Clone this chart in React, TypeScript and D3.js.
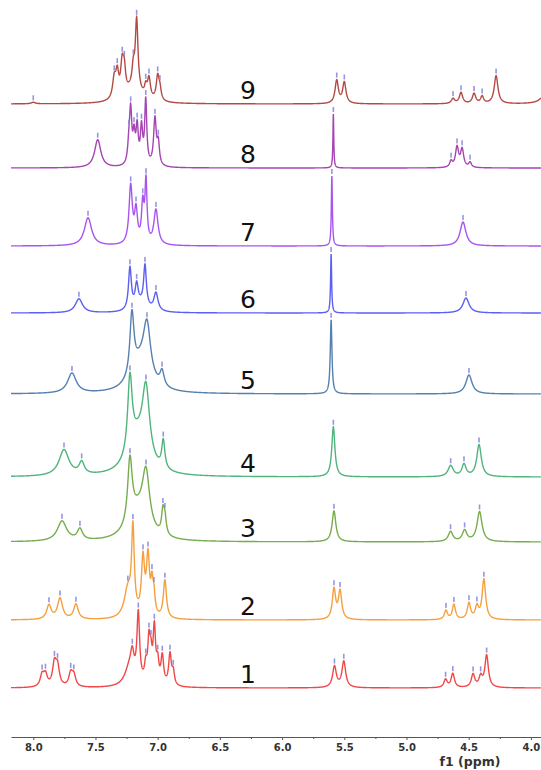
import React, { useEffect, useRef } from "react";
import * as d3 from "d3";

// peaks: [ppm, height, half width (ppm), picked?]
type Peak = [number, number, number, number];

const spectrumLabels = ["1", "2", "3", "4", "5", "6", "7", "8", "9"];
const majorTicks = [8.0, 7.5, 7.0, 6.5, 6.0, 5.5, 5.0, 4.5, 4.0];
const minorTicks = [7.75, 7.25, 6.75, 6.25, 5.75, 5.25, 4.75, 4.25];

const peaks1: Peak[] = [
  [7.929, 11.5, 0.018, 1], [7.902, 11.5, 0.018, 1], [7.83, 22, 0.018, 1], [7.805, 19, 0.018, 1],
  [7.699, 13, 0.018, 1], [7.674, 11, 0.018, 1],
  [7.225, 20, 0.045, 0], [7.204, 20, 0.016, 1], [7.156, 68, 0.013, 1], [7.096, 16, 0.012, 1],
  [7.07, 40, 0.012, 1], [7.054, 22, 0.011, 1], [7.027, 54, 0.012, 1], [7.0, 20, 0.012, 1],
  [6.963, 28, 0.013, 1], [6.901, 31, 0.013, 1], [6.875, 13, 0.012, 1],
  [5.579, 21, 0.018, 1], [5.504, 26, 0.018, 1],
  [4.686, 8, 0.016, 1], [4.628, 14, 0.016, 1], [4.465, 13, 0.017, 1], [4.404, 10, 0.016, 1], [4.356, 32, 0.017, 1],
];
const peaks2: Peak[] = [
  [7.874, 14, 0.022, 1], [7.785, 21, 0.024, 1], [7.657, 15, 0.022, 1],
  [7.24, 28, 0.035, 1], [7.199, 84, 0.013, 1], [7.118, 56, 0.015, 1], [7.078, 58, 0.015, 1],
  [7.046, 28, 0.011, 1], [7.03, 18, 0.011, 1], [6.942, 38, 0.015, 1],
  [5.583, 30, 0.016, 1], [5.534, 28, 0.016, 1],
  [4.683, 9, 0.015, 1], [4.619, 15, 0.015, 1], [4.498, 16, 0.016, 1], [4.434, 12, 0.016, 1], [4.378, 40, 0.017, 1],
];
const peaks3: Peak[] = [
  [7.769, 20, 0.045, 1], [7.625, 11, 0.025, 1],
  [7.16, 28, 0.09, 0], [7.223, 64, 0.022, 1], [7.094, 55, 0.035, 1], [6.958, 22, 0.013, 1], [6.942, 16, 0.013, 1],
  [5.583, 31, 0.018, 1],
  [4.646, 10, 0.022, 1], [4.533, 11, 0.022, 1], [4.413, 30, 0.024, 1],
];
const peaks4: Peak[] = [
  [7.753, 26, 0.048, 1], [7.611, 12, 0.025, 1],
  [7.16, 35, 0.09, 0], [7.223, 76, 0.022, 1], [7.094, 70, 0.035, 1], [6.955, 28, 0.015, 1],
  [5.588, 50, 0.015, 1],
  [4.645, 11, 0.025, 1], [4.538, 12, 0.02, 1], [4.417, 32, 0.022, 1],
];
const peaks5: Peak[] = [
  [7.689, 20, 0.042, 1],
  [7.14, 28, 0.09, 0], [7.207, 62, 0.02, 1], [7.086, 52, 0.035, 1], [6.965, 15, 0.02, 1],
  [5.606, 74, 0.008, 1],
  [4.498, 19, 0.03, 1],
];
const peaks6: Peak[] = [
  [7.633, 14, 0.035, 1],
  [7.13, 8, 0.06, 0], [7.223, 42, 0.014, 1], [7.169, 22, 0.015, 1], [7.102, 40, 0.013, 1], [7.014, 18, 0.02, 1],
  [5.606, 59, 0.005, 1],
  [4.522, 15, 0.03, 1],
];
const peaks7: Peak[] = [
  [7.56, 28, 0.035, 1],
  [7.217, 58, 0.016, 1], [7.174, 32, 0.014, 1], [7.12, 38, 0.012, 1], [7.094, 60, 0.01, 1], [7.014, 35, 0.02, 1],
  [5.6, 70, 0.005, 1],
  [4.546, 24, 0.028, 1],
];
const peaks8: Peak[] = [
  [7.482, 28, 0.03, 1],
  [7.231, 18, 0.012, 1], [7.217, 50, 0.011, 1], [7.19, 27, 0.011, 1], [7.165, 36, 0.011, 1],
  [7.13, 36, 0.011, 1], [7.096, 64, 0.01, 1], [7.022, 47, 0.013, 1], [6.995, 21, 0.011, 1],
  [5.588, 54, 0.004, 1],
  [4.642, 6, 0.013, 1], [4.594, 20, 0.015, 1], [4.553, 18, 0.015, 1], [4.489, 5, 0.013, 1],
];
const peaks9: Peak[] = [
  [8.0, 1.5, 0.02, 1],
  [7.2, 14, 0.08, 0], [7.349, 20, 0.016, 1], [7.325, 23, 0.014, 1], [7.285, 32, 0.015, 1], [7.268, 20, 0.012, 1],
  [7.196, 18, 0.012, 1], [7.169, 70, 0.013, 1], [7.096, 10, 0.012, 1], [7.07, 20, 0.014, 1],
  [7.0, 24, 0.014, 1], [6.982, 10, 0.012, 1],
  [5.561, 23, 0.016, 1], [5.5, 21, 0.016, 1],
  [4.626, 5, 0.016, 1], [4.562, 11, 0.016, 1], [4.457, 10, 0.016, 1], [4.392, 7, 0.014, 1], [4.28, 28, 0.018, 1],
  [3.86, 30, 0.03, 0],
];

const allPeaks = [peaks1, peaks2, peaks3, peaks4, peaks5, peaks6, peaks7, peaks8, peaks9];
const colors = ["#f04848", "#f5a040", "#77ad4e", "#50b47c", "#5580b0", "#5b5ff2", "#a855f0", "#a644b4", "#b34a45"];
const baselines = [688, 620, 542, 477, 394, 313, 246, 168, 104];

const W = 541;
const H = 770;
const axisY = 737;

const x = d3.scaleLinear().domain([8.179, 3.919]).range([11, 541]);

function intensity(p: Peak[], ppm: number) {
  let s = 0;
  for (const [c, h, w] of p) s += (h * w * w) / ((ppm - c) * (ppm - c) + w * w);
  return s;
}

const grid = d3.range(8.179, 3.919, -0.0008);

export default function App() {
  const axisRef = useRef<SVGGElement>(null);

  useEffect(() => {
    const g = d3.select(axisRef.current);
    g.selectAll("*").remove();
    const minor = g.append("g").call(
      d3.axisBottom(x).tickValues(minorTicks).tickSize(2).tickSizeOuter(0).tickFormat(() => "")
    );
    minor.select(".domain").remove();
    const major = g.append("g").call(
      d3.axisBottom(x).tickValues(majorTicks).tickSize(3).tickSizeOuter(0).tickPadding(4).tickFormat(d3.format(".1f"))
    );
    g.selectAll("line").attr("stroke", "#555");
    major.select(".domain").attr("stroke", "#555");
    major.selectAll("text")
      .attr("font-family", "DejaVu Sans")
      .attr("font-weight", "bold")
      .attr("font-size", 10)
      .attr("fill", "#333");
  }, []);

  return (
    <svg width={W} height={H} style={{ position: "absolute", left: 0, top: 0, background: "#fff" }}>
      <defs>
        <clipPath id="plot">
          <rect x={11} y={0} width={530} height={730} />
        </clipPath>
      </defs>
      <g clipPath="url(#plot)">
        {allPeaks.map((p, i) => {
          const y = d3.scaleLinear().domain([0, 100]).range([baselines[i], baselines[i] - 100]);
          const line = d3.line<number>().x((d) => x(d)).y((d) => y(intensity(p, d)));
          return (
            <g key={i}>
              <path d={line(grid) || ""} fill="none" stroke={colors[i]} strokeWidth={1.4} />
              {p.filter((k) => k[3]).map((k, j) => (
                <rect
                  key={j}
                  x={x(k[0]) - 0.8}
                  y={y(intensity(p, k[0])) - 7}
                  width={1.6}
                  height={5}
                  fill="#8484d8"
                  opacity={0.85}
                />
              ))}
            </g>
          );
        })}
      </g>
      {spectrumLabels.map((t, i) => (
        <text key={t} x={248} y={baselines[i] - 5} textAnchor="middle" fontFamily="DejaVu Sans" fontSize={25} fill="#111">
          {t}
        </text>
      ))}
      <g ref={axisRef} transform={`translate(0,${axisY})`} />
      <text x={470} y={766} textAnchor="middle" fontFamily="DejaVu Sans" fontWeight="bold" fontSize={12.5} fill="#333">
        f1 (ppm)
      </text>
    </svg>
  );
}
